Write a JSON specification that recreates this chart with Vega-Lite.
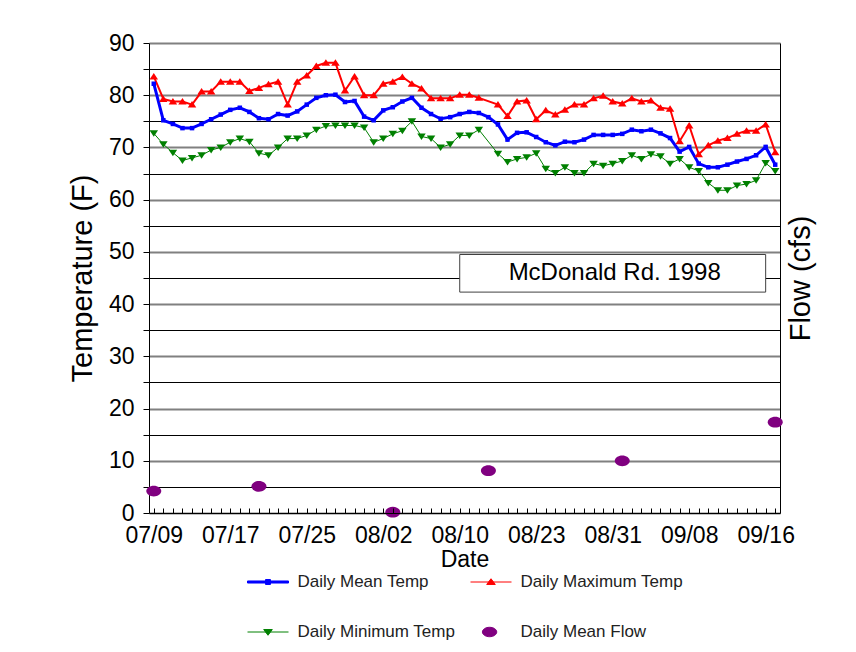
{
  "$schema": "https://vega.github.io/schema/vega-lite/v6.json",
  "width": 631,
  "height": 470,
  "autosize": {"type": "none"},
  "padding": {"left": 149, "top": 43, "right": 76, "bottom": 139},
  "background": "white",
  "config": {"view": {"stroke": null}, "font": "Liberation Sans"},
  "datasets": {
    "temps": [
      {"date": "07/09", "Daily Mean Temp": 82.2, "Daily Maximum Temp": 83.6, "Daily Minimum Temp": 72.7, "Daily Mean Flow": 4.2},
      {"date": "07/10", "Daily Mean Temp": 75.2, "Daily Maximum Temp": 79.3, "Daily Minimum Temp": 70.6, "Daily Mean Flow": null},
      {"date": "07/11", "Daily Mean Temp": 74.5, "Daily Maximum Temp": 78.8, "Daily Minimum Temp": 69.0, "Daily Mean Flow": null},
      {"date": "07/12", "Daily Mean Temp": 73.7, "Daily Maximum Temp": 78.8, "Daily Minimum Temp": 67.5, "Daily Mean Flow": null},
      {"date": "07/13", "Daily Mean Temp": 73.7, "Daily Maximum Temp": 78.2, "Daily Minimum Temp": 68.0, "Daily Mean Flow": null},
      {"date": "07/14", "Daily Mean Temp": 74.5, "Daily Maximum Temp": 80.7, "Daily Minimum Temp": 68.5, "Daily Mean Flow": null},
      {"date": "07/15", "Daily Mean Temp": 75.4, "Daily Maximum Temp": 80.7, "Daily Minimum Temp": 69.5, "Daily Mean Flow": null},
      {"date": "07/16", "Daily Mean Temp": 76.3, "Daily Maximum Temp": 82.6, "Daily Minimum Temp": 70.0, "Daily Mean Flow": null},
      {"date": "07/17", "Daily Mean Temp": 77.2, "Daily Maximum Temp": 82.6, "Daily Minimum Temp": 71.0, "Daily Mean Flow": null},
      {"date": "07/18", "Daily Mean Temp": 77.6, "Daily Maximum Temp": 82.6, "Daily Minimum Temp": 71.7, "Daily Mean Flow": null},
      {"date": "07/19", "Daily Mean Temp": 76.8, "Daily Maximum Temp": 80.8, "Daily Minimum Temp": 71.1, "Daily Mean Flow": null},
      {"date": "07/20", "Daily Mean Temp": 75.6, "Daily Maximum Temp": 81.4, "Daily Minimum Temp": 68.9, "Daily Mean Flow": 5.1},
      {"date": "07/21", "Daily Mean Temp": 75.4, "Daily Maximum Temp": 82.1, "Daily Minimum Temp": 68.5, "Daily Mean Flow": null},
      {"date": "07/22", "Daily Mean Temp": 76.4, "Daily Maximum Temp": 82.6, "Daily Minimum Temp": 70.0, "Daily Mean Flow": null},
      {"date": "07/23", "Daily Mean Temp": 76.1, "Daily Maximum Temp": 78.2, "Daily Minimum Temp": 71.7, "Daily Mean Flow": null},
      {"date": "07/24", "Daily Mean Temp": 76.9, "Daily Maximum Temp": 82.6, "Daily Minimum Temp": 71.7, "Daily Mean Flow": null},
      {"date": "07/25", "Daily Mean Temp": 78.2, "Daily Maximum Temp": 83.8, "Daily Minimum Temp": 72.3, "Daily Mean Flow": null},
      {"date": "07/26", "Daily Mean Temp": 79.5, "Daily Maximum Temp": 85.6, "Daily Minimum Temp": 73.4, "Daily Mean Flow": null},
      {"date": "07/27", "Daily Mean Temp": 80.0, "Daily Maximum Temp": 86.2, "Daily Minimum Temp": 74.1, "Daily Mean Flow": null},
      {"date": "07/28", "Daily Mean Temp": 80.1, "Daily Maximum Temp": 86.2, "Daily Minimum Temp": 74.2, "Daily Mean Flow": null},
      {"date": "07/29", "Daily Mean Temp": 78.7, "Daily Maximum Temp": 80.9, "Daily Minimum Temp": 74.2, "Daily Mean Flow": null},
      {"date": "07/30", "Daily Mean Temp": 78.9, "Daily Maximum Temp": 83.6, "Daily Minimum Temp": 74.2, "Daily Mean Flow": null},
      {"date": "07/31", "Daily Mean Temp": 75.9, "Daily Maximum Temp": 80.0, "Daily Minimum Temp": 73.8, "Daily Mean Flow": null},
      {"date": "08/01", "Daily Mean Temp": 75.2, "Daily Maximum Temp": 80.0, "Daily Minimum Temp": 71.0, "Daily Mean Flow": null},
      {"date": "08/02", "Daily Mean Temp": 77.1, "Daily Maximum Temp": 82.2, "Daily Minimum Temp": 71.7, "Daily Mean Flow": null},
      {"date": "08/03", "Daily Mean Temp": 77.7, "Daily Maximum Temp": 82.6, "Daily Minimum Temp": 72.6, "Daily Mean Flow": 0.15},
      {"date": "08/04", "Daily Mean Temp": 78.8, "Daily Maximum Temp": 83.5, "Daily Minimum Temp": 73.2, "Daily Mean Flow": null},
      {"date": "08/05", "Daily Mean Temp": 79.5, "Daily Maximum Temp": 82.2, "Daily Minimum Temp": 75.0, "Daily Mean Flow": null},
      {"date": "08/06", "Daily Mean Temp": 77.6, "Daily Maximum Temp": 81.3, "Daily Minimum Temp": 72.1, "Daily Mean Flow": null},
      {"date": "08/07", "Daily Mean Temp": 76.4, "Daily Maximum Temp": 79.4, "Daily Minimum Temp": 71.7, "Daily Mean Flow": null},
      {"date": "08/08", "Daily Mean Temp": 75.5, "Daily Maximum Temp": 79.4, "Daily Minimum Temp": 70.0, "Daily Mean Flow": null},
      {"date": "08/09", "Daily Mean Temp": 75.8, "Daily Maximum Temp": 79.4, "Daily Minimum Temp": 70.6, "Daily Mean Flow": null},
      {"date": "08/10", "Daily Mean Temp": 76.4, "Daily Maximum Temp": 80.1, "Daily Minimum Temp": 72.3, "Daily Mean Flow": null},
      {"date": "08/11", "Daily Mean Temp": 76.8, "Daily Maximum Temp": 80.1, "Daily Minimum Temp": 72.3, "Daily Mean Flow": null},
      {"date": "08/12", "Daily Mean Temp": 76.6, "Daily Maximum Temp": 79.5, "Daily Minimum Temp": 73.4, "Daily Mean Flow": null},
      {"date": "08/13", "Daily Mean Temp": 75.8, "Daily Maximum Temp": null, "Daily Minimum Temp": null, "Daily Mean Flow": 8.1},
      {"date": "08/19", "Daily Mean Temp": 74.4, "Daily Maximum Temp": 78.2, "Daily Minimum Temp": 68.8, "Daily Mean Flow": null},
      {"date": "08/20", "Daily Mean Temp": 71.5, "Daily Maximum Temp": 76.0, "Daily Minimum Temp": 67.2, "Daily Mean Flow": null},
      {"date": "08/21", "Daily Mean Temp": 72.8, "Daily Maximum Temp": 78.8, "Daily Minimum Temp": 67.8, "Daily Mean Flow": null},
      {"date": "08/22", "Daily Mean Temp": 72.9, "Daily Maximum Temp": 79.0, "Daily Minimum Temp": 68.1, "Daily Mean Flow": null},
      {"date": "08/23", "Daily Mean Temp": 72.0, "Daily Maximum Temp": 75.4, "Daily Minimum Temp": 68.9, "Daily Mean Flow": null},
      {"date": "08/24", "Daily Mean Temp": 71.0, "Daily Maximum Temp": 77.1, "Daily Minimum Temp": 65.9, "Daily Mean Flow": null},
      {"date": "08/25", "Daily Mean Temp": 70.4, "Daily Maximum Temp": 76.3, "Daily Minimum Temp": 65.1, "Daily Mean Flow": null},
      {"date": "08/26", "Daily Mean Temp": 71.1, "Daily Maximum Temp": 77.2, "Daily Minimum Temp": 66.2, "Daily Mean Flow": null},
      {"date": "08/27", "Daily Mean Temp": 71.0, "Daily Maximum Temp": 78.2, "Daily Minimum Temp": 65.1, "Daily Mean Flow": null},
      {"date": "08/28", "Daily Mean Temp": 71.5, "Daily Maximum Temp": 78.2, "Daily Minimum Temp": 65.1, "Daily Mean Flow": null},
      {"date": "08/29", "Daily Mean Temp": 72.4, "Daily Maximum Temp": 79.4, "Daily Minimum Temp": 66.9, "Daily Mean Flow": null},
      {"date": "08/30", "Daily Mean Temp": 72.4, "Daily Maximum Temp": 79.9, "Daily Minimum Temp": 66.5, "Daily Mean Flow": null},
      {"date": "08/31", "Daily Mean Temp": 72.4, "Daily Maximum Temp": 78.8, "Daily Minimum Temp": 66.9, "Daily Mean Flow": null},
      {"date": "09/01", "Daily Mean Temp": 72.6, "Daily Maximum Temp": 78.4, "Daily Minimum Temp": 67.4, "Daily Mean Flow": 10.0},
      {"date": "09/02", "Daily Mean Temp": 73.4, "Daily Maximum Temp": 79.4, "Daily Minimum Temp": 68.5, "Daily Mean Flow": null},
      {"date": "09/03", "Daily Mean Temp": 73.1, "Daily Maximum Temp": 78.8, "Daily Minimum Temp": 67.8, "Daily Mean Flow": null},
      {"date": "09/04", "Daily Mean Temp": 73.4, "Daily Maximum Temp": 79.0, "Daily Minimum Temp": 68.7, "Daily Mean Flow": null},
      {"date": "09/05", "Daily Mean Temp": 72.7, "Daily Maximum Temp": 77.6, "Daily Minimum Temp": 68.3, "Daily Mean Flow": null},
      {"date": "09/06", "Daily Mean Temp": 71.8, "Daily Maximum Temp": 77.4, "Daily Minimum Temp": 66.9, "Daily Mean Flow": null},
      {"date": "09/07", "Daily Mean Temp": 69.2, "Daily Maximum Temp": 71.2, "Daily Minimum Temp": 67.8, "Daily Mean Flow": null},
      {"date": "09/08", "Daily Mean Temp": 70.1, "Daily Maximum Temp": 74.2, "Daily Minimum Temp": 66.2, "Daily Mean Flow": null},
      {"date": "09/09", "Daily Mean Temp": 66.9, "Daily Maximum Temp": 68.7, "Daily Minimum Temp": 65.5, "Daily Mean Flow": null},
      {"date": "09/10", "Daily Mean Temp": 66.2, "Daily Maximum Temp": 70.4, "Daily Minimum Temp": 63.2, "Daily Mean Flow": null},
      {"date": "09/11", "Daily Mean Temp": 66.2, "Daily Maximum Temp": 71.3, "Daily Minimum Temp": 61.8, "Daily Mean Flow": null},
      {"date": "09/12", "Daily Mean Temp": 66.7, "Daily Maximum Temp": 71.8, "Daily Minimum Temp": 61.8, "Daily Mean Flow": null},
      {"date": "09/13", "Daily Mean Temp": 67.3, "Daily Maximum Temp": 72.6, "Daily Minimum Temp": 62.7, "Daily Mean Flow": null},
      {"date": "09/14", "Daily Mean Temp": 67.8, "Daily Maximum Temp": 73.2, "Daily Minimum Temp": 63.0, "Daily Mean Flow": null},
      {"date": "09/15", "Daily Mean Temp": 68.5, "Daily Maximum Temp": 73.2, "Daily Minimum Temp": 63.7, "Daily Mean Flow": null},
      {"date": "09/16", "Daily Mean Temp": 70.1, "Daily Maximum Temp": 74.4, "Daily Minimum Temp": 67.0, "Daily Mean Flow": null},
      {"date": "09/17", "Daily Mean Temp": 66.7, "Daily Maximum Temp": 69.1, "Daily Minimum Temp": 65.5, "Daily Mean Flow": 17.4}
    ]
  },
  "data": {"name": "temps"},
  "resolve": {"scale": {"y": "independent"}, "axis": {"y": "independent"}},
  "layer": [
    {
      "data": {"values": [{}]},
      "mark": {"type": "rect", "fill": "white", "stroke": "#404040", "strokeWidth": 1},
      "encoding": {
        "x": {"datum": "08/10", "type": "ordinal"},
        "x2": {"datum": "09/16"},
        "y": {"datum": 42.3, "type": "quantitative", "scale": {"domain": [0, 90], "nice": false}, "axis": null},
        "y2": {"datum": 49.5}
      }
    },
    {
      "data": {"values": [{}]},
      "mark": {"type": "text", "text": "McDonald Rd. 1998", "fontSize": 24, "font": "Liberation Sans", "color": "black", "align": "center", "baseline": "middle", "dx": 2},
      "encoding": {
        "x": {"datum": "08/31", "type": "ordinal"},
        "y": {"datum": 45.9, "type": "quantitative", "scale": {"domain": [0, 90], "nice": false}, "axis": null}
      }
    },
    {
      "transform": [
        {"fold": ["Daily Mean Temp", "Daily Maximum Temp", "Daily Minimum Temp"], "as": ["series", "value"]},
        {"filter": "isValid(datum.value)"}
      ],
      "mark": {"type": "line"},
      "encoding": {
        "x": {
          "field": "date", "type": "ordinal", "sort": null,
          "scale": {"type": "point", "padding": 0.5, "domain": ["07/09","07/10","07/11","07/12","07/13","07/14","07/15","07/16","07/17","07/18","07/19","07/20","07/21","07/22","07/23","07/24","07/25","07/26","07/27","07/28","07/29","07/30","07/31","08/01","08/02","08/03","08/04","08/05","08/06","08/07","08/08","08/09","08/10","08/11","08/12","08/13","08/19","08/20","08/21","08/22","08/23","08/24","08/25","08/26","08/27","08/28","08/29","08/30","08/31","09/01","09/02","09/03","09/04","09/05","09/06","09/07","09/08","09/09","09/10","09/11","09/12","09/13","09/14","09/15","09/16","09/17"]},
          "axis": {
            "labelExpr": "indexof(['07/09','07/17','07/25','08/02','08/10','08/23','08/31','09/08','09/16'], datum.value) >= 0 ? datum.value : ''",
            "labelAngle": 0, "labelAlign": "center", "labelBaseline": "top", "labelOverlap": false, "labelFontSize": 23, "labelColor": "black", "labelFont": "Liberation Sans", "labelPadding": 16.5,
            "tickSize": -5, "tickColor": "black", "domainColor": "black", "grid": false,
            "title": "Date", "titleFontSize": 23, "titleFontWeight": "normal", "titleColor": "black", "titleFont": "Liberation Sans", "titlePadding": 1
          }
        },
        "y": {
          "field": "value", "type": "quantitative",
          "scale": {"domain": [0, 90], "nice": false},
          "axis": {
            "values": [0, 5, 10, 15, 20, 25, 30, 35, 40, 45, 50, 55, 60, 65, 70, 75, 80, 85, 90],
            "labelExpr": "datum.value % 10 === 0 ? datum.label : ''",
            "grid": true,
            "gridColor": {"condition": {"test": "datum.value % 10 === 0", "value": "#808080"}, "value": "#000000"},
            "gridWidth": {"condition": {"test": "datum.value % 10 === 0", "value": 2}, "value": 1},
            "gridOpacity": 1,
            "tickSize": 6, "tickColor": "black", "domainColor": "black",
            "labelFontSize": 23, "labelColor": "black", "labelFont": "Liberation Sans", "labelPadding": 9,
            "title": "Temperature (F)", "titleFontSize": 29, "titleFontWeight": "normal", "titleColor": "black", "titleFont": "Liberation Sans", "titlePadding": 11
          }
        },
        "color": {
          "field": "series", "type": "nominal",
          "scale": {"domain": ["Daily Mean Temp", "Daily Minimum Temp", "Daily Maximum Temp", "Daily Mean Flow"], "range": ["#0000ff", "#008000", "#ff0000", "#800080"]},
          "legend": {
            "orient": "none", "legendX": 98, "legendY": 518, "columns": 2, "title": null, "padding": 0,
            "symbolSize": 1681, "symbolStrokeWidth": 1, "labelFontSize": 17, "labelFont": "Liberation Sans", "labelColor": "#222222", "labelLimit": 300,
            "labelOffset": 8.5, "columnPadding": 12, "rowPadding": 21,
            "encode": {
              "symbols": {
                "update": {
                  "shape": {"signal": "datum.value === 'Daily Mean Temp' ? 'M-1,-0.05H1V0.05H-1ZM-0.12,-0.12H0.12V0.12H-0.12Z' : datum.value === 'Daily Maximum Temp' ? 'M-1,0H1M0,-0.16L0.21,0.12L-0.21,0.12Z' : datum.value === 'Daily Minimum Temp' ? 'M-1,0H1M0,0.16L0.21,-0.12L-0.21,-0.12Z' : 'M-0.42,0C-0.42,-0.127 -0.263,-0.23 -0.07,-0.23C0.123,-0.23 0.28,-0.127 0.28,0C0.28,0.127 0.123,0.23 -0.07,0.23C-0.263,0.23 -0.42,0.127 -0.42,0Z'"},
                  "fill": {"scale": "color", "field": "value"},
                  "stroke": {"scale": "color", "field": "value"},
                  "opacity": {"value": 1}
                }
              }
            }
          }
        },
        "strokeWidth": {
          "field": "series", "type": "nominal",
          "scale": {"domain": ["Daily Mean Temp", "Daily Maximum Temp", "Daily Minimum Temp"], "range": [3, 1, 1]},
          "legend": null
        }
      }
    },
    {
      "transform": [
        {"fold": ["Daily Mean Temp", "Daily Maximum Temp", "Daily Minimum Temp"], "as": ["series", "value"]},
        {"filter": "isValid(datum.value)"}
      ],
      "mark": {"type": "point", "filled": true, "opacity": 1, "size": 100},
      "encoding": {
        "x": {"field": "date", "type": "ordinal", "sort": null},
        "y": {"field": "value", "type": "quantitative", "scale": {"domain": [0, 90], "nice": false}, "axis": null},
        "color": {"field": "series", "type": "nominal"},
        "shape": {
          "field": "series", "type": "nominal",
          "scale": {"domain": ["Daily Mean Temp", "Daily Maximum Temp", "Daily Minimum Temp"], "range": ["M-0.45,-0.45H0.45V0.45H-0.45Z", "M0,-0.7L0.85,0.6L-0.85,0.6Z", "M0,0.7L0.85,-0.6L-0.85,-0.6Z"]},
          "legend": null
        }
      }
    },
    {
      "transform": [
        {"fold": ["Daily Mean Flow"], "as": ["series", "value"]},
        {"filter": "isValid(datum.value)"}
      ],
      "mark": {"type": "point", "filled": true, "opacity": 1, "size": 225, "shape": "M-1,0C-1,-0.3977 -0.5523,-0.72 0,-0.72C0.5523,-0.72 1,-0.3977 1,0C1,0.3977 0.5523,0.72 0,0.72C-0.5523,0.72 -1,0.3977 -1,0Z"},
      "encoding": {
        "x": {"field": "date", "type": "ordinal", "sort": null},
        "y": {
          "field": "value", "type": "quantitative", "scale": {"domain": [0, 90], "nice": false},
          "axis": {"orient": "right", "domain": true, "domainColor": "black", "ticks": false, "labels": false, "grid": false,
            "title": "Flow (cfs)", "titleFontSize": 29, "titleFontWeight": "normal", "titleColor": "black", "titleFont": "Liberation Sans", "titleAngle": 270, "titleBaseline": "top", "titlePadding": 6}
        },
        "color": {"field": "series", "type": "nominal"}
      }
    }
  ]
}
